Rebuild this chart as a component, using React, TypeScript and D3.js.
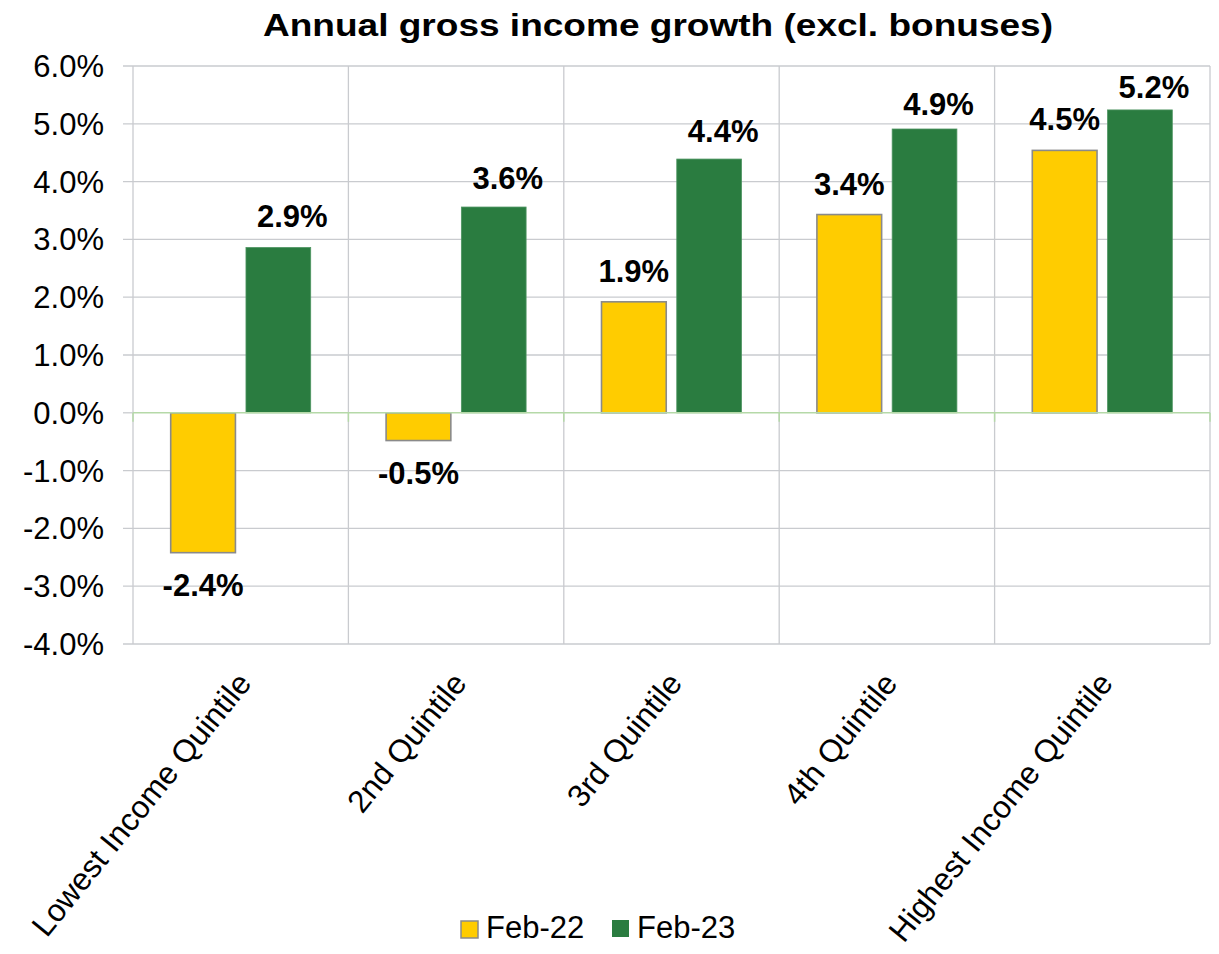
import React from "react";
import * as d3 from "d3";

const categories = [
  "Lowest Income Quintile",
  "2nd Quintile",
  "3rd Quintile",
  "4th Quintile",
  "Highest Income Quintile",
];
const seriesNames = ["Feb-22", "Feb-23"];
const feb22 = [-2.42, -0.48, 1.92, 3.43, 4.54];
const feb23 = [2.86, 3.56, 4.39, 4.91, 5.24];
const yTicks = [-4, -3, -2, -1, 0, 1, 2, 3, 4, 5, 6];

// layout-only label nudges (pixels) for the Feb-23 labels
const greenLabelDy = [-20, -18, -17, -14, -12];

const W = 1219;
const H = 954;
const left = 133;
const right = 1210;
const top = 66;
const bottom = 644;
const FONT = "Liberation Sans, Arial, sans-serif";
const YELLOW = "#ffcc00";
const GREEN = "#2a7c40";
const GRID = "#c9cbcf";

export default function App() {
  const y = d3.scaleLinear().domain([-4, 6]).range([bottom, top]);
  const x0 = d3.scaleBand<string>().domain(categories).range([left, right]).paddingInner(0).paddingOuter(0);
  const x1 = d3
    .scaleBand<string>()
    .domain(seriesNames)
    .range([37.7, x0.bandwidth() - 37.7])
    .paddingInner(0.14);
  const fmt = (v: number) => `${v.toFixed(1)}%`;
  const series = [feb22, feb23];
  const colors = [YELLOW, GREEN];

  return (
    <svg
      width={W}
      height={H}
      style={{ position: "absolute", left: 0, top: 0, background: "#fff" }}
      fontFamily={FONT}
    >
      <rect x={0} y={0} width={W} height={H} fill="#fff" />
      <text
        x={263}
        y={36}
        fontSize={32}
        fontWeight="bold"
        textLength={790}
        lengthAdjust="spacingAndGlyphs"
      >
        Annual gross income growth (excl. bonuses)
      </text>
      {/* horizontal gridlines */}
      {yTicks.map((t) => (
        <g key={t}>
          <line
            x1={left - 10}
            x2={t === 0 ? left : right}
            y1={y(t)}
            y2={y(t)}
            stroke={GRID}
            strokeWidth={1.3}
          />
          <text x={104} y={y(t) + 11} textAnchor="end" fontSize={31} fill="#000">
            {`${t.toFixed(1)}%`}
          </text>
        </g>
      ))}
      {/* vertical gridlines */}
      {d3.range(categories.length + 1).map((i) => {
        const xx = left + i * x0.bandwidth();
        return <line key={i} x1={xx} x2={xx} y1={top} y2={bottom} stroke={GRID} strokeWidth={1.3} />;
      })}
      {/* bars */}
      {categories.map((c, i) => (
        <g key={c} transform={`translate(${x0(c)},0)`}>
          {series.map((s, j) => {
            const v = s[i];
            const bx = x1(seriesNames[j])!;
            const bw = x1.bandwidth();
            const y0 = y(Math.max(0, v));
            const h = Math.abs(y(v) - y(0));
            const ly = v >= 0 ? y(v) + (j === 1 ? greenLabelDy[i] : -20) : y(v) + 43;
            const lx = bx + bw / 2 + (j === 1 ? 14 : 0);
            return (
              <g key={j}>
                <rect
                  x={bx}
                  y={y0}
                  width={bw}
                  height={h}
                  fill={colors[j]}
                  stroke={j === 0 ? "#8a8a8a" : "#4e9461"}
                  strokeWidth={j === 0 ? 1.6 : 0.8}
                />
                <text x={lx} y={ly} textAnchor="middle" fontSize={31} fontWeight="bold">
                  {fmt(v)}
                </text>
              </g>
            );
          })}
        </g>
      ))}
      {/* zero axis */}
      <line x1={left} x2={right} y1={y(0)} y2={y(0)} stroke="#b5d9a8" strokeWidth={1.5} />
      {d3.range(categories.length + 1).map((i) => {
        const xx = left + i * x0.bandwidth();
        return <line key={i} x1={xx} x2={xx} y1={y(0)} y2={y(0) + 9} stroke="#b5d9a8" strokeWidth={1.5} />;
      })}
      {/* category labels */}
      {categories.map((c) => {
        const cx = x0(c)! + x0.bandwidth() / 2 + 12;
        return (
          <text
            key={c}
            transform={`translate(${cx},${684}) rotate(-51)`}
            textAnchor="end"
            fontSize={31.5}
          >
            {c}
          </text>
        );
      })}
      {/* legend */}
      <rect x={461} y={921} width={17} height={17} fill={YELLOW} stroke="#8a8a8a" strokeWidth={1.5} />
      <text x={486} y={938} fontSize={31}>Feb-22</text>
      <rect x={612} y={920} width={17} height={17} fill={GREEN} />
      <text x={637} y={938} fontSize={31}>Feb-23</text>
    </svg>
  );
}
